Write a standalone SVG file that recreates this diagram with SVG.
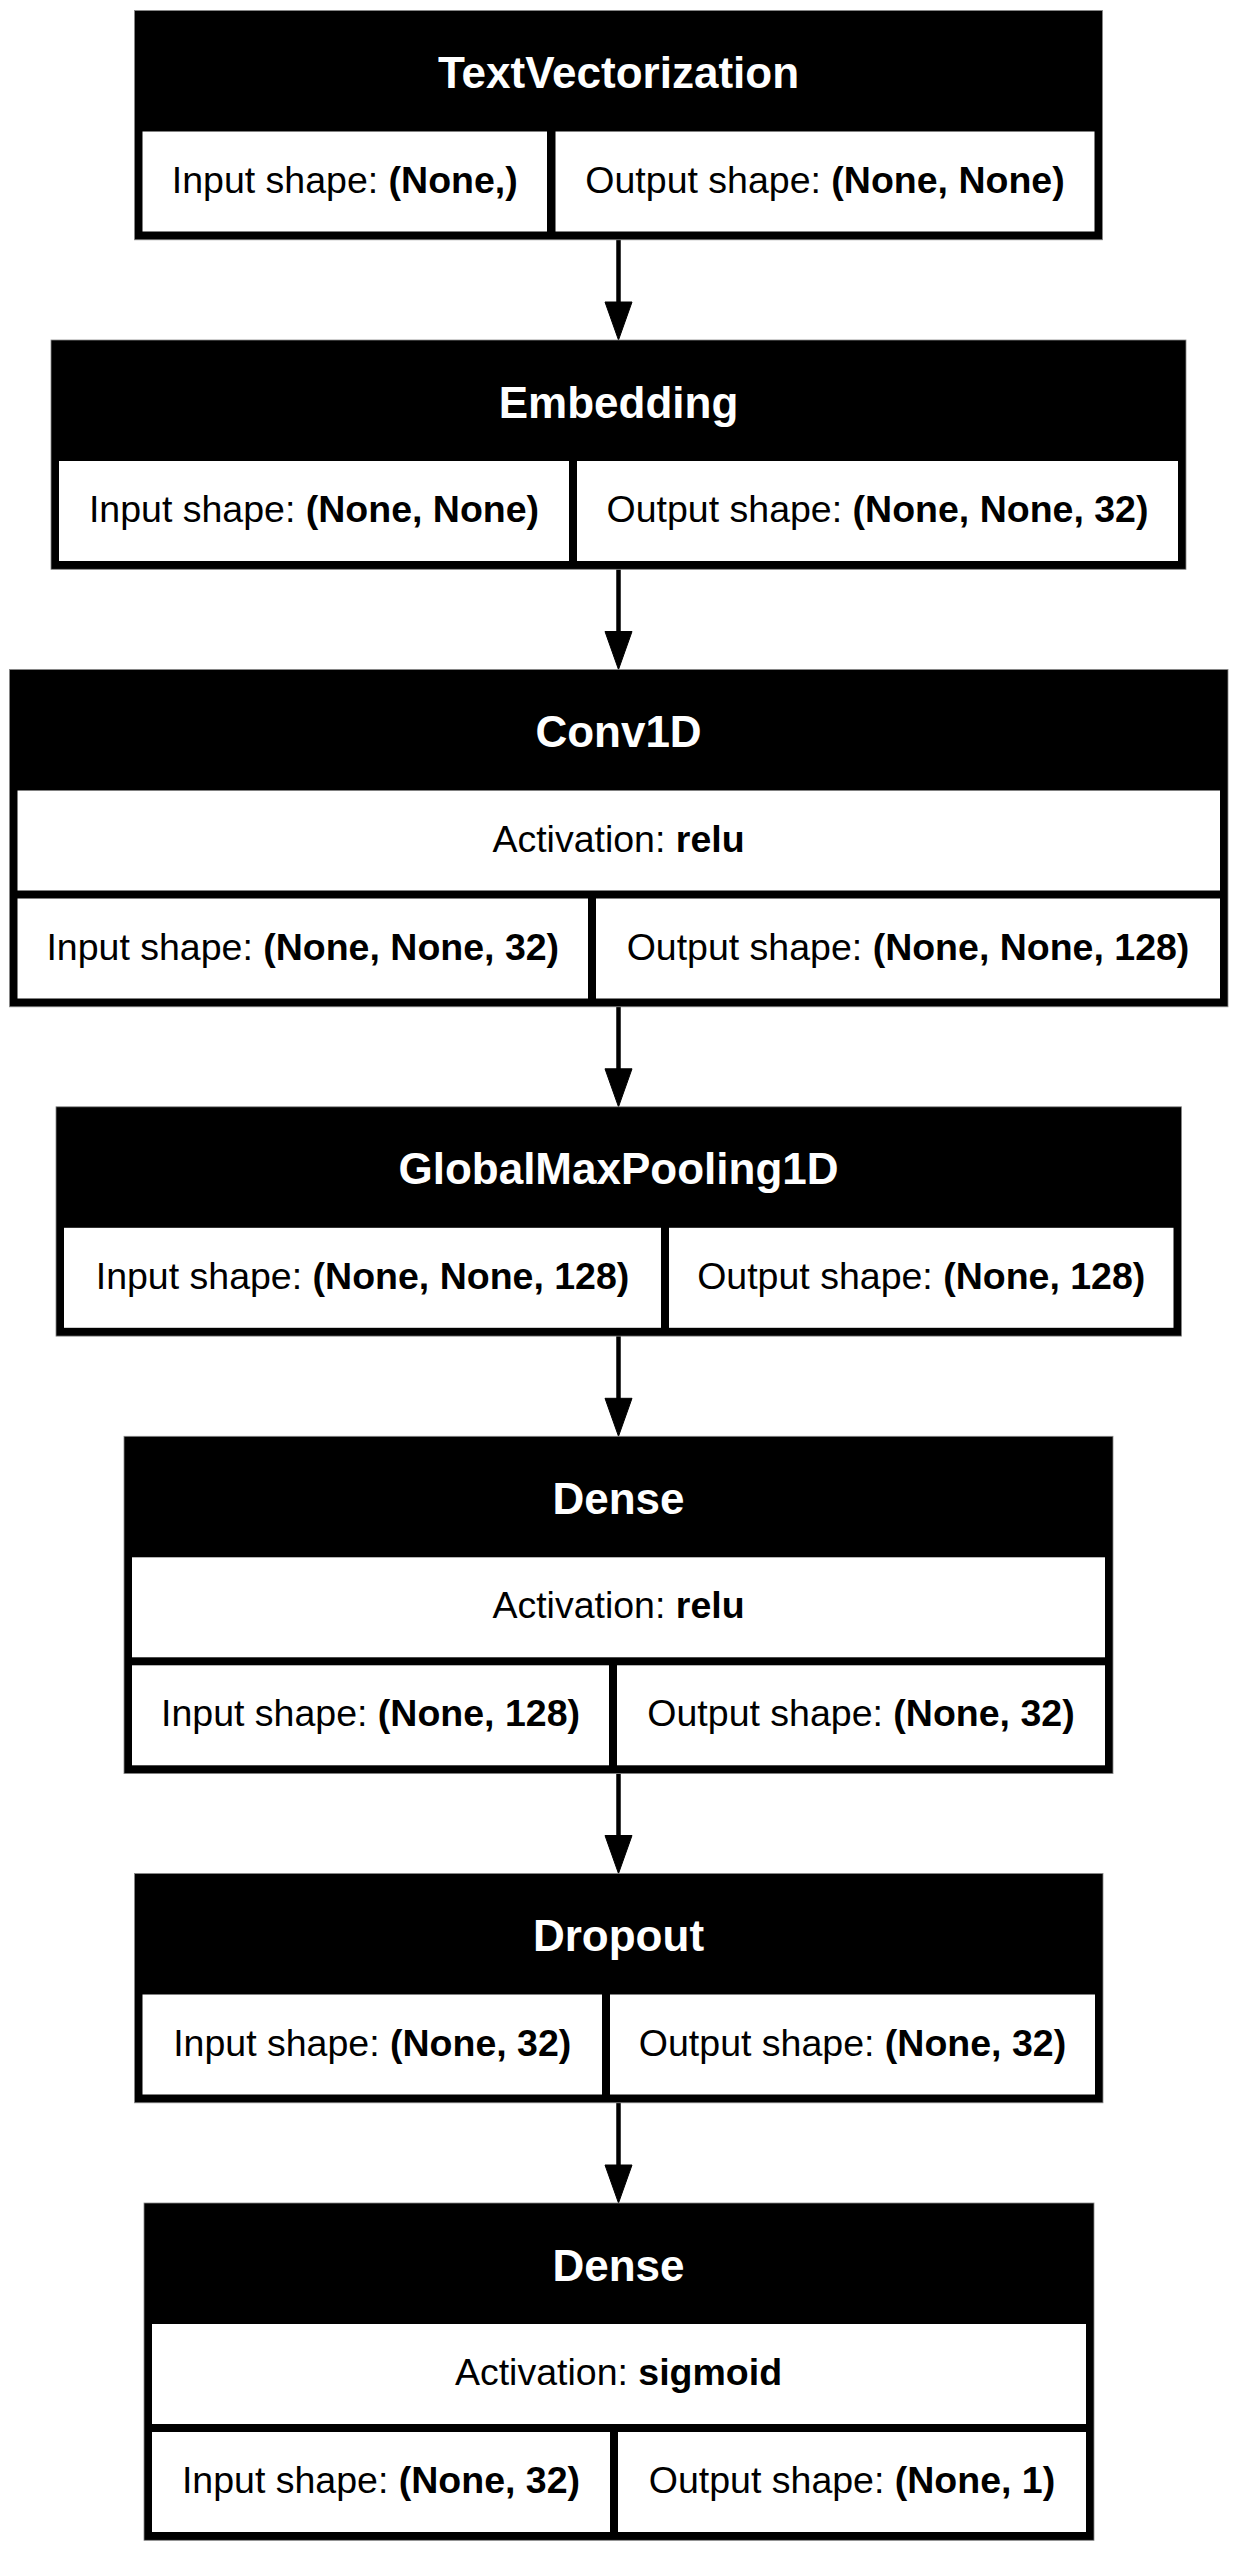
<svg xmlns="http://www.w3.org/2000/svg" width="1238" height="2551" viewBox="0 0 1238 2551">
<style>
.outer{fill:#000;stroke:#888;stroke-width:0.8}
.cell{fill:#fff}
.hdr{font-family:"Liberation Sans",Arial,Helvetica,sans-serif;font-size:44px;font-weight:bold;fill:#fff;text-anchor:middle}
.txt{font-family:"Liberation Sans",Arial,Helvetica,sans-serif;font-size:37.5px;fill:#000;text-anchor:middle}
.b{font-weight:bold}
.edge{stroke:#000;stroke-width:4.5;fill:none}
.head{fill:#000;stroke:#000;stroke-width:1}
</style>
<rect width="1238" height="2551" fill="#fff"/>
<g id="edges">
<line class="edge" x1="618.5" y1="239.8" x2="618.5" y2="304"/><polygon class="head" points="605,302 632,302 618.5,340"/>
<line class="edge" x1="618.5" y1="569.3" x2="618.5" y2="633.5"/><polygon class="head" points="605,631.5 632,631.5 618.5,669.5"/>
<line class="edge" x1="618.5" y1="1006.8" x2="618.5" y2="1070.8"/><polygon class="head" points="605,1068.8 632,1068.8 618.5,1106.8"/>
<line class="edge" x1="618.5" y1="1336.1" x2="618.5" y2="1400.3"/><polygon class="head" points="605,1398.3 632,1398.3 618.5,1436.3"/>
<line class="edge" x1="618.5" y1="1773.6" x2="618.5" y2="1837.5"/><polygon class="head" points="605,1835.5 632,1835.5 618.5,1873.5"/>
<line class="edge" x1="618.5" y1="2102.8" x2="618.5" y2="2167"/><polygon class="head" points="605,2165 632,2165 618.5,2203"/>
</g>
<g id="node-textvectorization">
<rect class="outer" x="134.5" y="10.5" width="968" height="229.3"/>
<rect class="cell" x="142.5" y="131.5" width="404.5" height="100"/>
<rect class="cell" x="555.5" y="131.5" width="539" height="100"/>
<text class="hdr" x="618.5" y="88">TextVectorization</text>
<text class="txt" x="344.75" y="192.5">Input shape: <tspan class="b">(None,)</tspan></text>
<text class="txt" x="825" y="192.5">Output shape: <tspan class="b">(None, None)</tspan></text>
</g>
<g id="node-embedding">
<rect class="outer" x="51" y="340" width="1135" height="229.3"/>
<rect class="cell" x="59" y="461" width="510" height="100"/>
<rect class="cell" x="577" y="461" width="601" height="100"/>
<text class="hdr" x="618.5" y="417.5">Embedding</text>
<text class="txt" x="314" y="522">Input shape: <tspan class="b">(None, None)</tspan></text>
<text class="txt" x="877.5" y="522">Output shape: <tspan class="b">(None, None, 32)</tspan></text>
</g>
<g id="node-conv1d">
<rect class="outer" x="9.5" y="669.5" width="1218.5" height="337.3"/>
<rect class="cell" x="17.5" y="790.5" width="1202.5" height="100"/>
<rect class="cell" x="17.5" y="898.5" width="570.5" height="100"/>
<rect class="cell" x="596" y="898.5" width="624" height="100"/>
<text class="hdr" x="618.5" y="747">Conv1D</text>
<text class="txt" x="618.5" y="851.5">Activation: <tspan class="b">relu</tspan></text>
<text class="txt" x="302.75" y="959.5">Input shape: <tspan class="b">(None, None, 32)</tspan></text>
<text class="txt" x="908" y="959.5">Output shape: <tspan class="b">(None, None, 128)</tspan></text>
</g>
<g id="node-globalmaxpooling1d">
<rect class="outer" x="56" y="1106.8" width="1125.5" height="229.3"/>
<rect class="cell" x="64" y="1227.8" width="597" height="100"/>
<rect class="cell" x="669" y="1227.8" width="504.5" height="100"/>
<text class="hdr" x="618.5" y="1184.3">GlobalMaxPooling1D</text>
<text class="txt" x="362.5" y="1288.8">Input shape: <tspan class="b">(None, None, 128)</tspan></text>
<text class="txt" x="921.25" y="1288.8">Output shape: <tspan class="b">(None, 128)</tspan></text>
</g>
<g id="node-dense">
<rect class="outer" x="124" y="1436.3" width="989" height="337.3"/>
<rect class="cell" x="132" y="1557.3" width="973" height="100"/>
<rect class="cell" x="132" y="1665.3" width="477" height="100"/>
<rect class="cell" x="617" y="1665.3" width="488" height="100"/>
<text class="hdr" x="618.5" y="1513.8">Dense</text>
<text class="txt" x="618.5" y="1618.3">Activation: <tspan class="b">relu</tspan></text>
<text class="txt" x="370.5" y="1726.3">Input shape: <tspan class="b">(None, 128)</tspan></text>
<text class="txt" x="861" y="1726.3">Output shape: <tspan class="b">(None, 32)</tspan></text>
</g>
<g id="node-dropout">
<rect class="outer" x="134.5" y="1873.5" width="968.5" height="229.3"/>
<rect class="cell" x="142.5" y="1994.5" width="459.5" height="100"/>
<rect class="cell" x="610" y="1994.5" width="485" height="100"/>
<text class="hdr" x="618.5" y="1951">Dropout</text>
<text class="txt" x="372.25" y="2055.5">Input shape: <tspan class="b">(None, 32)</tspan></text>
<text class="txt" x="852.5" y="2055.5">Output shape: <tspan class="b">(None, 32)</tspan></text>
</g>
<g id="node-dense-1">
<rect class="outer" x="144" y="2203" width="950" height="337.3"/>
<rect class="cell" x="152" y="2324" width="934" height="100"/>
<rect class="cell" x="152" y="2432" width="458" height="100"/>
<rect class="cell" x="618" y="2432" width="468" height="100"/>
<text class="hdr" x="618.5" y="2280.5">Dense</text>
<text class="txt" x="618.5" y="2385">Activation: <tspan class="b">sigmoid</tspan></text>
<text class="txt" x="381" y="2493">Input shape: <tspan class="b">(None, 32)</tspan></text>
<text class="txt" x="852" y="2493">Output shape: <tspan class="b">(None, 1)</tspan></text>
</g>
</svg>
